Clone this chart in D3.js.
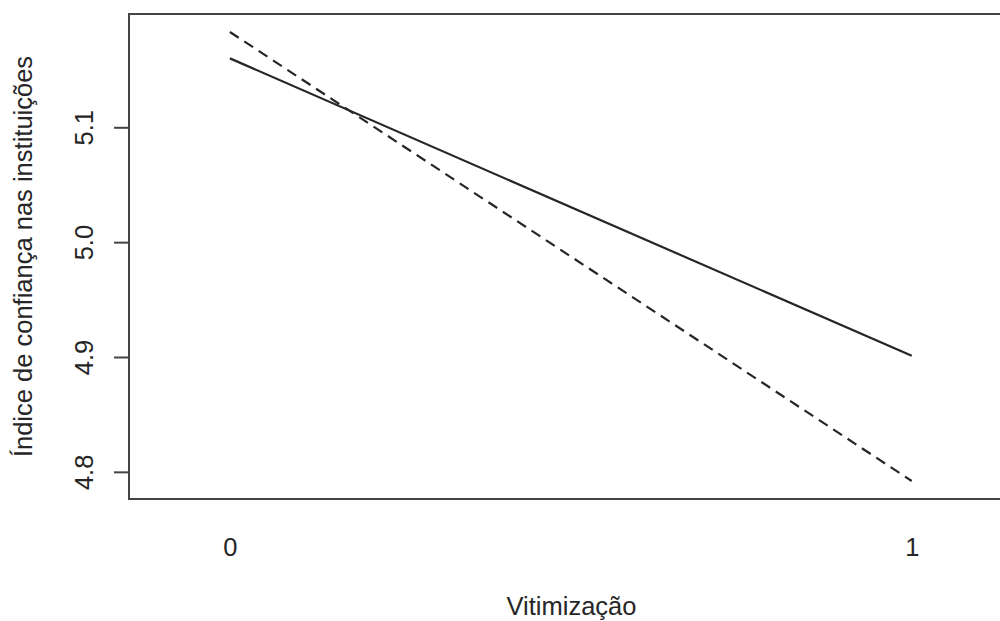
<!DOCTYPE html>
<html>
<head>
<meta charset="utf-8">
<script src="https://cdn.jsdelivr.net/npm/d3@7"></script>
<style>
  html, body { margin: 0; padding: 0; background: #fff; }
  svg { display: block; font-family: "Liberation Sans", Arial, sans-serif; }
</style>
</head>
<body>
<svg id="chart" width="1000" height="621"></svg>
<script>
// Levels of the trace factor on the x axis
const xLevels = [0, 1];
const xTickLabels = ["0", "1"];
// Mean index for the two groups (solid and dashed traces)
const solidSeries = [5.160, 4.901];
const dashedSeries = [5.183, 4.792];
// Y axis ticks
const yTicks = [4.8, 4.9, 5.0, 5.1];

const xTitle = "Vitimização";
const yTitle = "Índice de confiança nas instituições";

const svg = d3.select("#chart");
const plot = { left: 129, right: 1014, top: 14, bottom: 499 };

// y range padded by 4% on each side, as base graphics does
const allY = solidSeries.concat(dashedSeries);
const yMin = d3.min(allY), yMax = d3.max(allY);
const pad = 0.04 * (yMax - yMin);
const y = d3.scaleLinear().domain([yMin - pad, yMax + pad]).range([plot.bottom, plot.top]);
const x = d3.scaleLinear().domain([-0.148, 1.15]).range([plot.left, plot.right]);

const ink = "#262626";
const fontSize = 25.5;

// plot box
svg.append("rect")
  .attr("x", plot.left).attr("y", plot.top)
  .attr("width", plot.right - plot.left).attr("height", plot.bottom - plot.top)
  .attr("fill", "none").attr("stroke", "#444").attr("stroke-width", 2);

// left axis: ticks with rotated labels
const yAxis = d3.axisLeft(y).tickValues(yTicks).tickSize(15).tickSizeOuter(0)
  .tickFormat(d3.format(".1f"));
const gy = svg.append("g").attr("transform", `translate(${plot.left},0)`).call(yAxis);
gy.select(".domain").remove();
gy.selectAll(".tick line").attr("stroke", "#444").attr("stroke-width", 2);
gy.selectAll(".tick text")
  .attr("x", null).attr("dy", null)
  .attr("transform", "translate(-36,0) rotate(-90)")
  .attr("text-anchor", "middle")
  .attr("font-size", fontSize).attr("fill", ink)
  .attr("font-family", "Liberation Sans, Arial, sans-serif");

// bottom axis: labels only
const xAxis = d3.axisBottom(x).tickValues(xLevels).tickSize(0)
  .tickFormat((d, i) => xTickLabels[i]);
const gx = svg.append("g").attr("transform", `translate(0,${plot.bottom})`).call(xAxis);
gx.select(".domain").remove();
gx.selectAll(".tick text")
  .attr("y", 57).attr("dy", null)
  .attr("font-size", fontSize).attr("fill", ink)
  .attr("font-family", "Liberation Sans, Arial, sans-serif");

// traces
const line = d3.line().x((d, i) => x(xLevels[i])).y(d => y(d));
svg.append("path").datum(solidSeries)
  .attr("d", line).attr("fill", "none")
  .attr("stroke", ink).attr("stroke-width", 2.2);
svg.append("path").datum(dashedSeries)
  .attr("d", line).attr("fill", "none")
  .attr("stroke", ink).attr("stroke-width", 2.2)
  .attr("stroke-dasharray", "10.5,6.7");

// axis titles
svg.append("text")
  .attr("x", (plot.left + plot.right) / 2).attr("y", 615)
  .attr("text-anchor", "middle").attr("font-size", fontSize).attr("fill", ink)
  .text(xTitle);
svg.append("text")
  .attr("transform", `translate(32,${(plot.top + plot.bottom) / 2}) rotate(-90)`)
  .attr("text-anchor", "middle").attr("font-size", fontSize).attr("fill", ink)
  .text(yTitle);
</script>
</body>
</html>
